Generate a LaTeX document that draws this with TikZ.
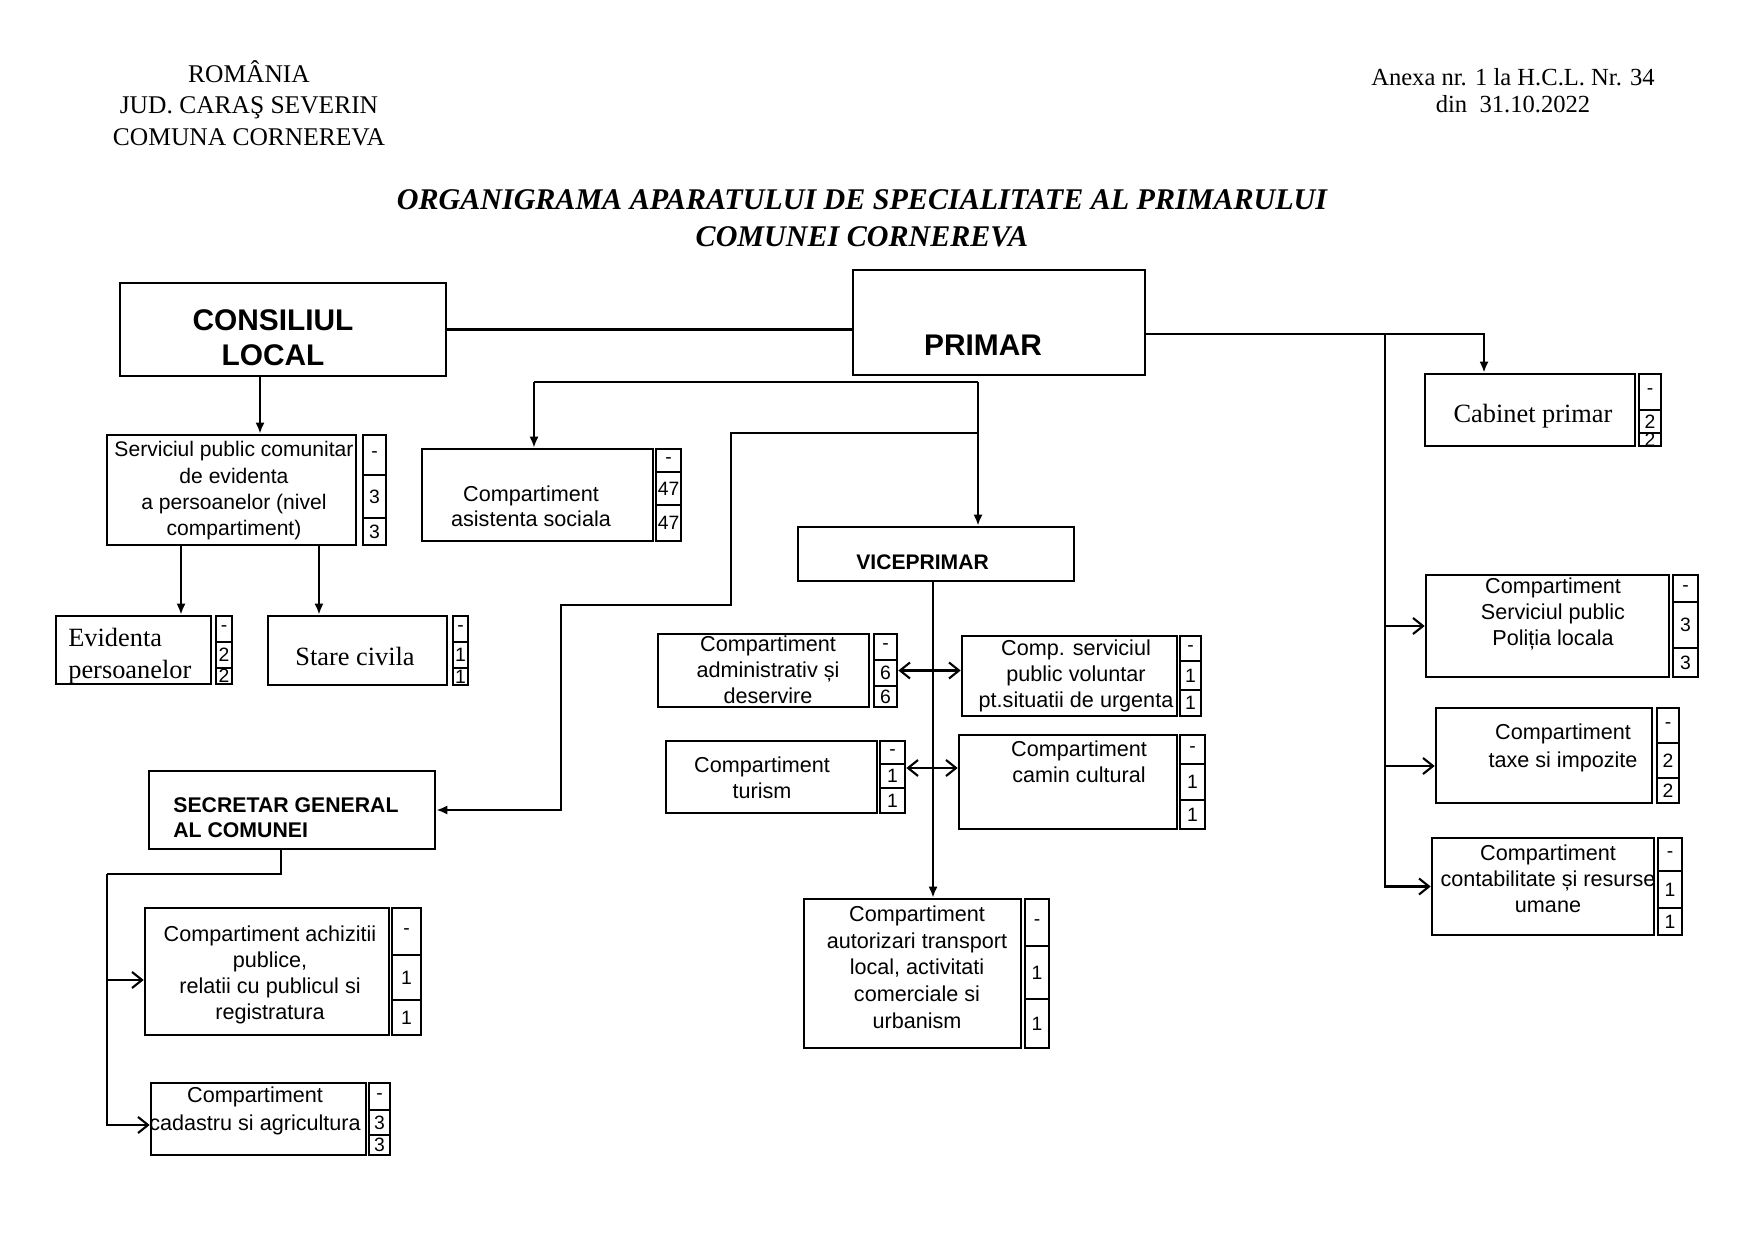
\documentclass[tikz,border=0pt]{standalone}
\usepackage{fontspec}
\setmainfont{Liberation Serif}
\newfontfamily\arial{Liberation Sans}
\usetikzlibrary{arrows.meta}

% column of posts beside a box: name, x left, x right, y top, divider 1, divider 2, y bottom, number
\newcommand{\posts}[8]{%
  \node[colbox, minimum width={(#3-#2)*0.02cm}, minimum height={(#7-#4)*0.02cm}] (#1) at ({(#2+#3)/2},{(#4+#7)/2}) {};
  \draw[colline] (#2,#5) -- (#3,#5) (#2,#6) -- (#3,#6);
  \node[num] (#1-a) at ({(#2+#3)/2},{(#4+#5)/2}) {-};
  \node[num] (#1-b) at ({(#2+#3)/2},{(#5+#6)/2}) {#8};
  \node[num] (#1-c) at ({(#2+#3)/2},{(#6+#7)/2}) {#8};
}

\begin{document}
\begin{tikzpicture}[x=0.02cm, y=-0.02cm,
    orgbox/.style = {draw, line width=1.5pt, inner sep=0pt},
    colbox/.style = {draw, line width=1.5pt, inner sep=0pt},
    colline/.style = {line width=1.3pt},
    num/.style = {inner sep=0pt, font=\arial\fontsize{11}{12}\selectfont},
    txt/.style = {align=center, inner sep=0pt, font=\arial\fontsize{12.3}{14.8}\selectfont},
    big/.style = {align=center, inner sep=0pt, font=\arial\bfseries\fontsize{17}{20}\selectfont},
    serif/.style = {align=center, inner sep=0pt, font=\fontsize{15}{18}\selectfont},
    wire/.style = {line width=1.2pt},
    arr/.style = {wire, -{Latex[length=0.22cm,width=0.18cm]}},
    oarr/.style = {wire, -{Straight Barb[length=0.2cm,width=0.32cm]}},
    darr/.style = {wire, {Straight Barb[length=0.2cm,width=0.32cm]}-{Straight Barb[length=0.2cm,width=0.32cm]}}]

    \useasboundingbox (0,0) rectangle (1741,1239);

    % header
    \node[align=center, font=\fontsize{14.5}{18}\selectfont] (antet) at (249,103) {ROMÂNIA\\JUD. CARAŞ SEVERIN\\COMUNA CORNEREVA};
    \node[align=center, font=\fontsize{14}{15.5}\selectfont] (anexa) at (1513,91) {Anexa nr. 1 la H.C.L. Nr. 34\\din\ \ 31.10.2022};
    \node[align=center, font=\bfseries\itshape\fontsize{17.1}{21}\selectfont] (titlu) at (862,218) {ORGANIGRAMA APARATULUI DE SPECIALITATE AL PRIMARULUI\\COMUNEI CORNEREVA};

    % conducere
    \node[orgbox, minimum width=6.52cm, minimum height=1.86cm] (cons) at (283,329.5) {};
    \node[big] (cons-t) at (273,338) {CONSILIUL\\LOCAL};
    \node[orgbox, minimum width=5.84cm, minimum height=2.10cm] (prim) at (999,322.5) {};
    \node[big] (prim-t) at (983,345) {PRIMAR};
    \node[orgbox, minimum width=5.52cm, minimum height=1.08cm] (vice) at (936,554) {};
    \node[txt, anchor=west, font=\arial\bfseries\fontsize{12}{14}\selectfont] (vice-t) at (856,562) {VICEPRIMAR};
    \node[orgbox, minimum width=5.72cm, minimum height=1.56cm] (sec) at (292,810) {};
    \node[txt, anchor=west, align=left, font=\arial\bfseries\fontsize{12.1}{14.2}\selectfont] (sec-t) at (173,818) {SECRETAR GENERAL\\AL COMUNEI};

    % subordonate consiliului
    \node[orgbox, minimum width=4.98cm, minimum height=2.20cm] (serv) at (231.5,490) {};
    \node[txt, font=\arial\fontsize{12}{15}\selectfont] (serv-t) at (234,491) {Serviciul public comunitar\\de evidenta\\a persoanelor (nivel\\compartiment)};
    \posts{servp}{363}{386}{435}{475}{518}{545}{3}
    \node[orgbox, minimum width=3.10cm, minimum height=1.36cm] (evid) at (133.5,650) {};
    \node[serif, anchor=west, align=left] (evid-t) at (68,656) {Evidenta\\persoanelor};
    \posts{evidp}{216}{232}{616}{642}{668}{684}{2}
    \node[orgbox, minimum width=3.58cm, minimum height=1.38cm] (stare) at (357.5,650.5) {};
    \node[serif] (stare-t) at (355,656) {Stare civila};
    \posts{starep}{453}{468}{616}{642}{668}{685}{1}

    % subordonate primarului
    \node[orgbox, minimum width=4.20cm, minimum height=1.44cm] (cab) at (1530,410) {};
    \node[serif] (cab-t) at (1533,416) {Cabinet primar};
    \posts{cabp}{1639}{1661}{374}{410}{433}{446}{2}
    \node[orgbox, minimum width=4.62cm, minimum height=1.84cm] (asis) at (537.5,495) {};
    \node[txt, font=\arial\fontsize{12.3}{14.2}\selectfont] (asis-t) at (531,506) {Compartiment\\asistenta sociala};
    \posts{asisp}{656}{681}{449}{472}{505}{541}{47}
    \node[orgbox, minimum width=4.86cm, minimum height=2.04cm] (pol) at (1547.5,626) {};
    \node[txt] (pol-t) at (1553,614) {Compartiment\\Serviciul public\\Poliția locala};
    \posts{polp}{1673}{1698}{575}{602}{648}{677}{3}
    \node[orgbox, minimum width=4.32cm, minimum height=1.90cm] (tax) at (1544,755.5) {};
    \node[txt, font=\arial\fontsize{12.3}{16}\selectfont] (tax-t) at (1563,748) {Compartiment\\taxe si impozite};
    \posts{taxp}{1657}{1679}{708}{743}{778}{803}{2}
    \node[orgbox, minimum width=4.44cm, minimum height=1.94cm] (con) at (1543,886.5) {};
    \node[txt] (con-t) at (1548,879) {Compartiment\\contabilitate și resurse\\umane};
    \posts{conp}{1658}{1682}{838}{871}{908}{935}{1}

    % subordonate viceprimarului
    \node[orgbox, minimum width=4.22cm, minimum height=1.46cm] (adm) at (763.5,670.5) {};
    \node[txt] (adm-t) at (768,670) {Compartiment\\administrativ și\\deservire};
    \posts{admp}{874}{897}{634}{660}{686}{707}{6}
    \node[orgbox, minimum width=4.30cm, minimum height=1.60cm] (urg) at (1069.5,676) {};
    \node[txt] (urg-t) at (1076,676) {Comp. serviciul\\public voluntar\\pt.situatii de urgenta};
    \posts{urgp}{1180}{1201}{636}{661}{690}{716}{1}
    \node[orgbox, minimum width=4.22cm, minimum height=1.44cm] (tur) at (771.5,777) {};
    \node[txt] (tur-t) at (762,778) {Compartiment\\turism};
    \posts{turp}{880}{905}{741}{764}{788}{813}{1}
    \node[orgbox, minimum width=4.36cm, minimum height=1.88cm] (cam) at (1068,782) {};
    \node[txt] (cam-t) at (1079,762) {Compartiment\\camin cultural};
    \posts{camp}{1180}{1205}{735}{764}{800}{829}{1}
    \node[orgbox, minimum width=4.34cm, minimum height=2.98cm] (aut) at (912.5,973.5) {};
    \node[txt, font=\arial\fontsize{12.3}{15.2}\selectfont] (aut-t) at (917,967) {Compartiment\\autorizari transport\\local, activitati\\comerciale si\\urbanism};
    \posts{autp}{1025}{1049}{899}{946}{999}{1048}{1}

    % subordonate secretarului
    \node[orgbox, minimum width=4.88cm, minimum height=2.54cm] (ach) at (267,971.5) {};
    \node[txt] (ach-t) at (270,975) {Compartiment achizitii\\publice,\\relatii cu publicul si\\registratura};
    \posts{achp}{392}{421}{908}{955}{1000}{1035}{1}
    \node[orgbox, minimum width=4.30cm, minimum height=1.44cm] (cad) at (258.5,1119) {};
    \node[txt, font=\arial\fontsize{12.3}{16}\selectfont] (cad-t) at (255,1111) {Compartiment\\cadastru si agricultura};
    \posts{cadp}{369}{390}{1083}{1110}{1135}{1155}{3}

    % legaturi
    \draw[wire] (cons.east) -- (cons.east -| prim.west);
    \draw[arr] ([xshift=-0.46cm]cons.south) -- ([xshift=-0.46cm]cons.south |- serv.north);
    \draw[arr] ([xshift=-1.01cm]serv.south) -- ([xshift=-1.01cm]serv.south |- evid.north);
    \draw[arr] ([xshift=1.75cm]serv.south) -- ([xshift=1.75cm]serv.south |- stare.north);

    \draw[arr] ([yshift=-0.23cm]prim.east) -| ([xshift=-0.92cm]cab.north);
    \coordinate (rbus) at (1385,334);
    \draw[oarr] (rbus) |- (pol.west);
    \draw[oarr] (rbus) |- ([yshift=-0.21cm]tax.west);
    \draw[oarr] (rbus) |- (con.west);

    \coordinate (pl) at (534,382);
    \coordinate (pr) at (978,382);
    \draw[wire] (pl) -- (pr);
    \draw[arr] (pl) -- (pl |- asis.north);
    \draw[arr] (pr) -- (pr |- vice.north);
    \coordinate (sj) at (978,433);
    \draw[arr] (sj) -- (731,433) -- (731,605) -- (561,605) -- (561,810) -- (sec.east);

    \draw[arr] ([xshift=-0.06cm]vice.south) -- ([xshift=-0.06cm]vice.south |- aut.north);
    \draw[darr] (admp.east) -- (admp.east -| urg.west);
    \draw[darr] ([yshift=0.18cm]turp.east) -- ([yshift=0.18cm]turp.east -| cam.west);

    \coordinate (lb) at (107,874);
    \draw[wire] ([xshift=-0.22cm]sec.south) |- (lb);
    \draw[oarr] (lb) |- ([yshift=-0.17cm]ach.west);
    \draw[oarr] (lb) |- ([yshift=-0.12cm]cad.west);

\end{tikzpicture}
\end{document}
